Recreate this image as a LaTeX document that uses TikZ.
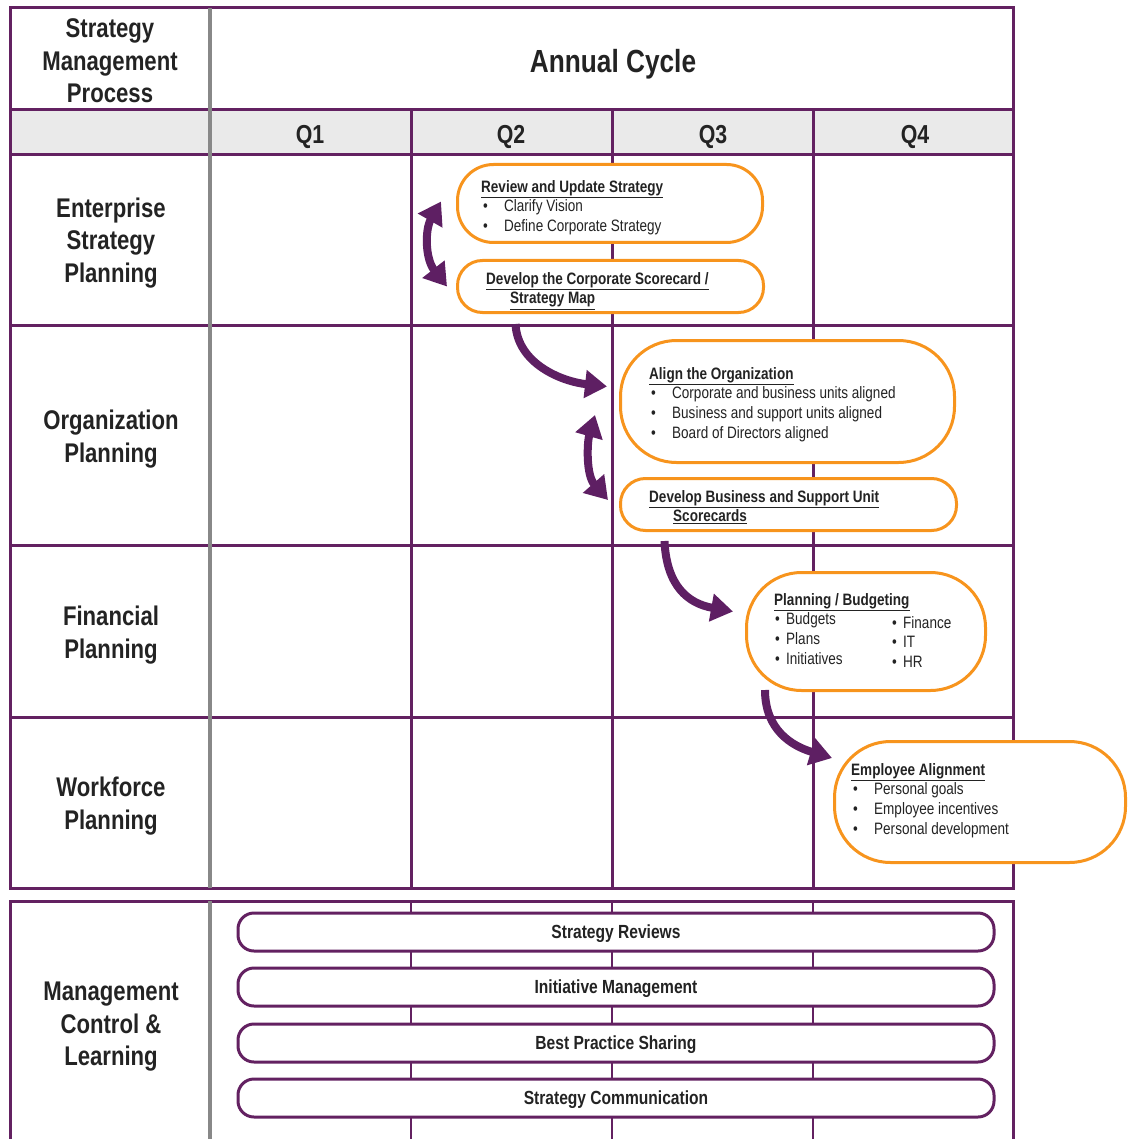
\documentclass[tikz,border=0pt]{standalone}
\usepackage{fontspec}
\setmainfont{Liberation Sans}[FakeStretch=0.82]
\usetikzlibrary{arrows.meta, calc}

\definecolor{framec}{RGB}{99,33,97}
\definecolor{flowc}{RGB}{94,31,99}
\definecolor{tangerine}{RGB}{247,148,29}
\definecolor{headgrey}{RGB}{234,234,234}
\definecolor{divider}{RGB}{136,136,136}
\definecolor{ink}{RGB}{35,35,35}

\newcommand{\wideitem}{\hspace*{2pt}\makebox[21pt][l]{\textbullet}}
\newcommand{\tightitem}{\hspace*{1pt}\makebox[11pt][l]{\textbullet}}

\begin{document}
\begin{tikzpicture}[
    x=1pt, y=-1pt,
    frameline/.style={draw=framec, line width=3pt},
    spine/.style={draw=divider, line width=4.5pt},
    rowlabel/.style={font=\fontsize{27}{32.5}\selectfont\bfseries, align=center, text=ink},
    quarter/.style={font=\fontsize{26}{30}\selectfont\bfseries, text=ink},
    task/.style={draw=tangerine, line width=3pt, fill=white},
    tasktext/.style={anchor=north west, inner sep=0pt, align=left, text=ink, font=\fontsize{16.5}{19.7}\selectfont},
    track/.style={draw=framec, line width=3pt, fill=white, rounded corners=16pt, minimum width=756pt, minimum height=38pt, text height=13.6pt, text depth=0pt, font=\fontsize{19}{22}\selectfont\bfseries, text=ink},
    flow/.style={draw=flowc, line width=8pt, -{Triangle[length=22pt,width=27pt]}},
    flowboth/.style={flow, {Triangle[length=22pt,width=27pt]}-{Triangle[length=22pt,width=27pt]}}
]
\useasboundingbox (0,0) rectangle (1137,1139);

% Upper table
\fill[headgrey] (10,110) rectangle (1013,155);
\draw[frameline] (10,8) rectangle (1013,888);
\foreach \y in {110,155,325,545,717}
  \draw[frameline] (10,\y) -- (1013,\y);
\foreach \x in {411,612,813}
  \draw[frameline] (\x,110) -- (\x,888);
\draw[spine] (210,8) -- (210,888);

% Lower table
\draw[frameline] (10,1139) -- (10,901) -- (1013,901) -- (1013,1139);
\foreach \x in {411,612,813}
  \draw[framec, line width=2.5pt] (\x,901) -- (\x,1139);
\draw[spine] (210,901) -- (210,1139);

% Headers
\node[rowlabel] (hdr) at (110,61) {Strategy\\Management\\Process};
\node[font=\fontsize{32}{36}\selectfont\bfseries, text=ink] (cycle) at (613,64) {Annual Cycle};
\node[quarter] (q1) at (310,137) {Q1};
\node[quarter] (q2) at (511,137) {Q2};
\node[quarter] (q3) at (713,137) {Q3};
\node[quarter] (q4) at (915,137) {Q4};

% Row labels
\node[rowlabel] (esp) at (111,243) {Enterprise\\Strategy\\Planning};
\node[rowlabel] (orgp) at (111,439) {Organization\\Planning};
\node[rowlabel] (finp) at (111,635) {Financial\\Planning};
\node[rowlabel] (wfp) at (111,806) {Workforce\\Planning};
\node[rowlabel] (mcl) at (111,1027) {Management\\Control \&\\Learning};

% Task boxes
\node[task, rounded corners=36pt, minimum width=305pt, minimum height=78pt] (rev) at (610,203.5) {};
\node[task, rounded corners=25pt, minimum width=306pt, minimum height=52pt] (dcs) at (610.5,286.5) {};
\node[task, rounded corners=56pt, minimum width=334pt, minimum height=122pt] (align) at (787.5,401.5) {};
\node[task, rounded corners=25pt, minimum width=336pt, minimum height=52pt] (dbs) at (788.5,504.5) {};
\node[task, rounded corners=55pt, minimum width=239pt, minimum height=118pt] (plan) at (866,631.5) {};
\node[task, rounded corners=56pt, minimum width=291pt, minimum height=121pt] (emp) at (980,802) {};

% Task texts
\node[tasktext] (rev-txt) at (481,180) {\underline{\textbf{Review and Update Strategy}}\\
  \wideitem Clarify Vision\\
  \wideitem Define Corporate Strategy};
\node[tasktext] (dcs-txt) at (486,272) {\underline{\textbf{Develop the Corporate Scorecard /}}\\
  \hspace*{24pt}\underline{\textbf{Strategy Map}}};
\node[tasktext] (align-txt) at (649,367) {\underline{\textbf{Align the Organization}}\\
  \wideitem Corporate and business units aligned\\
  \wideitem Business and support units aligned\\
  \wideitem Board of Directors aligned};
\node[tasktext] (dbs-txt) at (649,490) {\underline{\textbf{Develop Business and Support Unit}}\\
  \hspace*{24pt}\underline{\textbf{Scorecards}}};
\node[tasktext] (plan-txt) at (774,593) {\underline{\textbf{Planning / Budgeting}}\\
  \tightitem Budgets\\
  \tightitem Plans\\
  \tightitem Initiatives};
\node[tasktext] (plan-units) at (891,616) {\tightitem Finance\\
  \tightitem IT\\
  \tightitem HR};
\node[tasktext] (emp-txt) at (851,763) {\underline{\textbf{Employee Alignment}}\\
  \wideitem Personal goals\\
  \wideitem Employee incentives\\
  \wideitem Personal development};

% Flows between tasks
\draw[flowboth] ($(rev.west)+(-15,-2)$) .. controls +(-16,28) and +(-22,-28) .. ($(dcs.west)+(-9,0)$);
\draw[flow] ($(dcs.south)+(-95,10)$) .. controls +(2,40) and +(-45,-5) .. ($(align.west)+(-12,-15)$);
\draw[flowboth] ($(align.west)+(-24,13.5)$) .. controls +(-8,28) and +(-22,-25) .. ($(dbs.west)+(-11,-4.5)$);
\draw[flow] ($(dbs.south)+(-124,9)$) .. controls +(2,45) and +(-45,-8) .. ($(plan.west)+(-12,-20)$);
\draw[flow] ($(plan.south)+(-101,-2)$) .. controls +(0,40) and +(-40,-12) .. ($(emp.west)+(-1,-44)$);

% Management control tracks
\node[track] (reviews) at (616,932) {Strategy Reviews};
\node[track] (initiatives) at (616,987) {Initiative Management};
\node[track] (practice) at (616,1043) {Best Practice Sharing};
\node[track] (comms) at (616,1098) {Strategy Communication};

\end{tikzpicture}
\end{document}
